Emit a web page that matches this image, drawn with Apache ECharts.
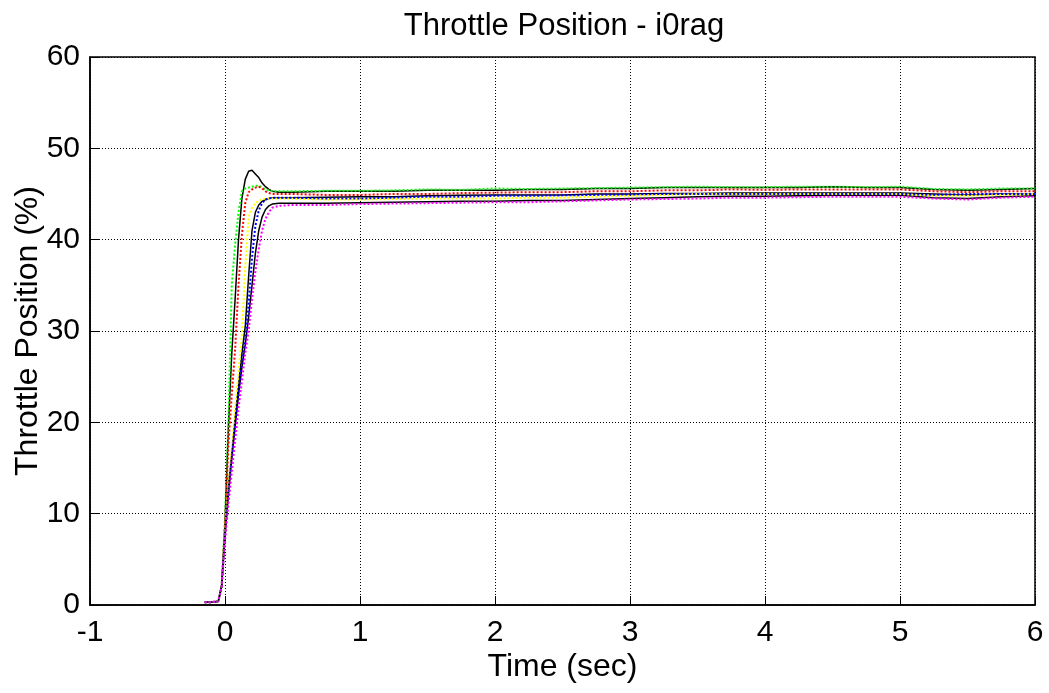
<!DOCTYPE html>
<html>
<head>
<meta charset="utf-8">
<script src="https://cdn.jsdelivr.net/npm/echarts@6/dist/echarts.min.js"></script>
<style>html,body{margin:0;padding:0;background:#fff}#c{width:1049px;height:693px}</style>
</head>
<body>
<div id="c"></div>
<script>
const titleText = 'Throttle Position - i0rag';
const xName = 'Time (sec)';
const yName = 'Throttle Position (%)';
const xTicks = [-1, 0, 1, 2, 3, 4, 5, 6];
const yTicks = [0, 10, 20, 30, 40, 50, 60];

const time = [-0.15,-0.1,-0.05,-0.025,
  0,0.025,0.05,0.075,0.1,0.125,0.15,0.175,0.2,0.225,0.25,0.275,0.3,0.325,0.35,
  0.4,0.5,0.75,
  1,1.25,1.5,1.75,2,2.25,2.5,2.75,3,3.25,3.5,3.75,4,4.25,4.5,4.75,5,5.25,5.5,5.75,6];

const black1 = [0.3,0.3,0.4,2.0,
  9,19.5,27.5,33.5,40,44.5,46.6,47.5,47.6,47.2,46.8,46.2,45.8,45.5,45.3,
  45.2,45.2,45.3,
  45.3,45.3,45.4,45.4,45.4,45.5,45.5,45.6,45.6,45.7,45.7,45.7,45.7,45.7,45.8,45.7,45.7,45.5,45.4,45.5,45.6];
const green = [0.3,0.3,0.4,2.0,
  9.5,20,35,39.5,43,45.3,45.6,45.7,45.8,45.9,45.9,45.7,45.5,45.4,45.3,
  45.3,45.3,45.35,
  45.35,45.4,45.5,45.45,45.6,45.55,45.6,45.65,45.7,45.75,45.8,45.75,45.75,45.8,45.8,45.75,45.8,45.55,45.5,45.6,45.6];
const red = [0.3,0.3,0.4,2.0,
  8.5,17.5,23,28,35,40.5,44,45.2,45.5,45.7,45.8,45.6,45.3,45.1,45.0,
  45.0,45.0,44.9,
  44.9,45.0,45.0,45.1,45.15,45.2,45.2,45.3,45.3,45.4,45.4,45.5,45.45,45.5,45.5,45.5,45.5,45.3,45.2,45.3,45.3];
const yellow = [0.3,0.3,0.4,2.0,
  8,13,17,21.5,25.5,29.5,37,42.5,43.5,44.0,44.3,44.4,44.5,44.5,44.5,
  44.5,44.5,44.4,
  44.4,44.45,44.5,44.5,44.5,44.6,44.6,44.7,44.8,44.9,45.0,45.0,45.0,45.0,45.0,45.0,45.0,44.8,44.8,44.9,45.0];
const black2 = [0.3,0.3,0.4,2.0,
  8,13,16.5,20.5,24,27.5,30.5,36,41,43,43.8,44.2,44.4,44.5,44.6,
  44.6,44.6,44.65,
  44.7,44.7,44.8,44.85,44.9,44.9,44.9,45.0,45.0,45.05,45.05,45.1,45.1,45.1,45.1,45.1,45.1,45.0,44.9,45.0,45.0];
const blue = [0.3,0.3,0.4,2.0,
  7.5,12,16,19.5,23,26.5,29,33,38,41.5,43.2,44.0,44.4,44.5,44.6,
  44.6,44.6,44.5,
  44.5,44.6,44.7,44.7,44.8,44.8,44.85,44.9,44.95,45.0,45.0,45.0,45.0,45.0,45.0,45.0,45.0,44.9,45.0,45.0,45.0];
const black3 = [0.3,0.3,0.4,2.0,
  7.5,12,16,19.5,23,26,28.5,31.5,35,38.5,41,42.5,43.3,43.7,43.9,
  44.0,44.0,44.0,
  44.05,44.1,44.15,44.2,44.2,44.3,44.3,44.4,44.5,44.6,44.7,44.75,44.75,44.8,44.85,44.85,44.85,44.6,44.5,44.7,44.8];
const magenta = [0.3,0.3,0.4,2.0,
  7,11,14.5,18,21.5,24.5,27.5,30,33.5,36.5,39,41,42.3,43.0,43.5,
  43.7,43.8,43.8,
  43.9,43.95,44.0,44.05,44.1,44.1,44.2,44.3,44.4,44.45,44.5,44.6,44.6,44.65,44.7,44.7,44.7,44.5,44.4,44.6,44.7];

const seriesDefs = [
  {name:'s1', values: black1, color:'#000000', dotted:false},
  {name:'s2', values: green, color:'#00ff00', dotted:true},
  {name:'s3', values: red, color:'#ff0000', dotted:true},
  {name:'s4', values: yellow, color:'#ffff00', dotted:true},
  {name:'s5', values: black2, color:'#000000', dotted:false},
  {name:'s6', values: blue, color:'#0000ff', dotted:true},
  {name:'s7', values: black3, color:'#000000', dotted:false},
  {name:'s8', values: magenta, color:'#ff00ff', dotted:true}
];

const FONT = 'Arial, "Liberation Sans", Helvetica, sans-serif';
const chart = echarts.init(document.getElementById('c'), null, {renderer:'canvas'});
chart.setOption({
  animation: false,
  backgroundColor: '#ffffff',
  title: {
    text: titleText, left: 559, top: 6, textAlign: 'center',
    textStyle: {fontFamily: FONT, fontSize: 31, fontWeight: 'normal', color: '#000'}
  },
  grid: {left: 90, right: 14, top: 57, bottom: 88, show: true, borderColor: '#000', borderWidth: 1.5,
    containLabel: false, outerBoundsMode: 'none'},
  xAxis: {
    type: 'value', min: xTicks[0], max: xTicks[xTicks.length-1], interval: 1,
    name: xName, nameLocation: 'middle', nameGap: 46, nameMoveOverlap: false,
    nameTextStyle: {fontFamily: FONT, fontSize: 32, color: '#000'},
    axisLine: {show: true, onZero: false, lineStyle: {color: '#000', width: 1.5}},
    axisTick: {show: true, inside: true, length: 9, lineStyle: {color: '#000'}},
    axisLabel: {fontFamily: FONT, fontSize: 30, color: '#000', margin: 13},
    splitLine: {show: true, lineStyle: {color: '#000', width: 1, type: [1, 2]}}
  },
  yAxis: {
    type: 'value', min: yTicks[0], max: yTicks[yTicks.length-1], interval: 10,
    name: yName, nameLocation: 'middle', nameGap: 46, nameMoveOverlap: false,
    nameTextStyle: {fontFamily: FONT, fontSize: 32, color: '#000'},
    axisLine: {show: true, onZero: false, lineStyle: {color: '#000', width: 1.5}},
    axisTick: {show: true, inside: true, length: 9, lineStyle: {color: '#000'}},
    axisLabel: {fontFamily: FONT, fontSize: 30, color: '#000', margin: 10},
    splitLine: {show: true, lineStyle: {color: '#000', width: 1, type: [1, 2]}}
  },
  series: seriesDefs.map(d => ({
    name: d.name, type: 'line', showSymbol: false, symbol: 'none',
    data: time.map((t, i) => [t, d.values[i]]),
    lineStyle: {color: d.color, width: d.dotted ? 2 : 1.5, type: d.dotted ? [2, 2] : 'solid'},
    z: d.dotted ? 3 : 2
  }))
});
</script>
</body>
</html>
